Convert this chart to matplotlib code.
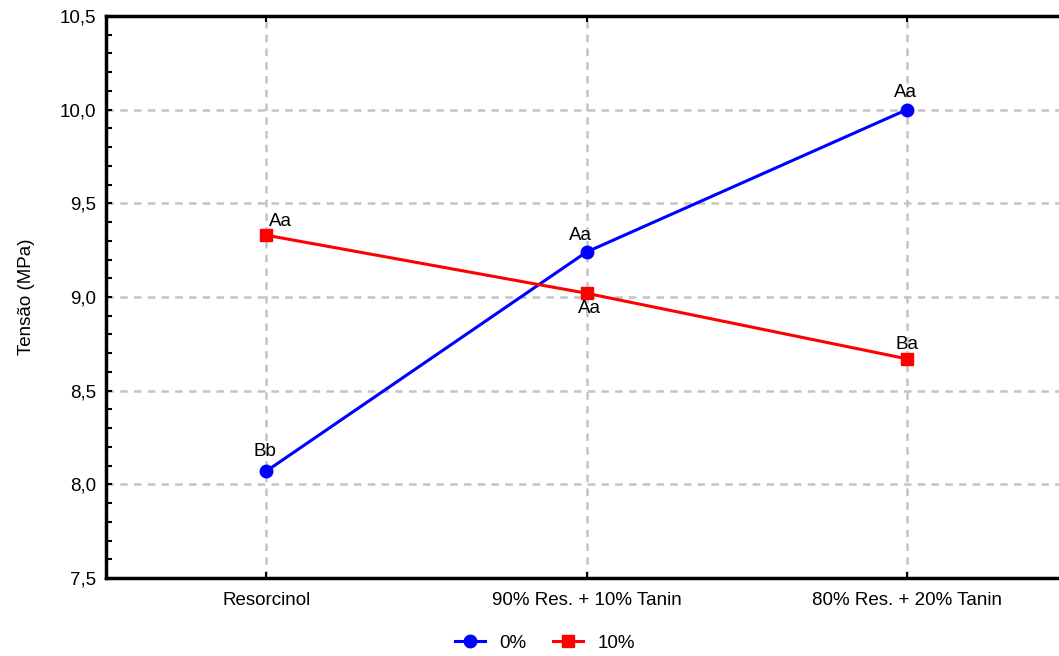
import matplotlib.pyplot as plt
from matplotlib.ticker import MultipleLocator, FuncFormatter

plt.rcParams['font.family'] = ['Liberation Sans', 'DejaVu Sans']

categories = ["Resorcinol", "90% Res. + 10% Tanin", "80% Res. + 20% Tanin"]
serie_0 = [8.07, 9.24, 10.0]
serie_10 = [9.33, 9.02, 8.67]
letras_0 = ["Bb", "Aa", "Aa"]
letras_10 = ["Aa", "Aa", "Ba"]

fig = plt.figure(figsize=(10.59, 6.56), dpi=100)
# right edge of the plot runs past the picture, as in the original
ax = fig.add_axes([106 / 1059, 1 - 578 / 656, 961 / 1059, 562 / 656])

x = range(len(categories))
ax.plot(x, serie_0, color='blue', lw=2.2, marker='o', ms=9, label='0%', zorder=3)
ax.plot(x, serie_10, color='red', lw=2.2, marker='s', ms=9, label='10%', zorder=3)

offs_0 = [(-1, 8), (-4, 6), (-1, 6)]
offs_10 = [(10, 4), (2, -5), (0, 4)]
for i in x:
    ax.annotate(letras_0[i], (i, serie_0[i]), xytext=offs_0[i], textcoords='offset points',
                ha='center', va='bottom' if offs_0[i][1] > 0 else 'top', fontsize=13.5)
    ax.annotate(letras_10[i], (i, serie_10[i]), xytext=offs_10[i], textcoords='offset points',
                ha='center', va='bottom' if offs_10[i][1] > 0 else 'top', fontsize=13.5)

ax.set_xlim(-0.5, 2.5)
ax.set_ylim(7.5, 10.5)
ax.set_xticks(list(x))
ax.set_xticklabels(categories, fontsize=13.5)
ax.yaxis.set_major_locator(MultipleLocator(0.5))
ax.yaxis.set_minor_locator(MultipleLocator(0.1))
ax.yaxis.set_major_formatter(FuncFormatter(lambda v, p: f"{v:.1f}".replace('.', ',')))
ax.tick_params(axis='y', labelsize=13.5, direction='in', length=4, width=1.5, pad=7)
ax.tick_params(axis='y', which='minor', direction='in', length=4, width=1.5)
ax.tick_params(axis='x', direction='in', length=4, width=1.5, top=True, pad=10)
ax.set_ylabel("Tensão (MPa)", fontsize=13.5, labelpad=18)

ax.grid(True, color='#c4c4c4', ls=(0, (3, 2.5)), lw=1.8)
ax.set_axisbelow(True)
for s in ['left', 'top', 'bottom']:
    ax.spines[s].set_linewidth(2.5)
ax.spines['right'].set_visible(False)

fig.legend(loc='center', bbox_to_anchor=(545 / 1059, 1 - 643 / 656), ncol=2, frameon=False,
           fontsize=13.5, handlelength=1.6, columnspacing=1.4, handletextpad=0.8)

fig.savefig("out.png", dpi=100)
